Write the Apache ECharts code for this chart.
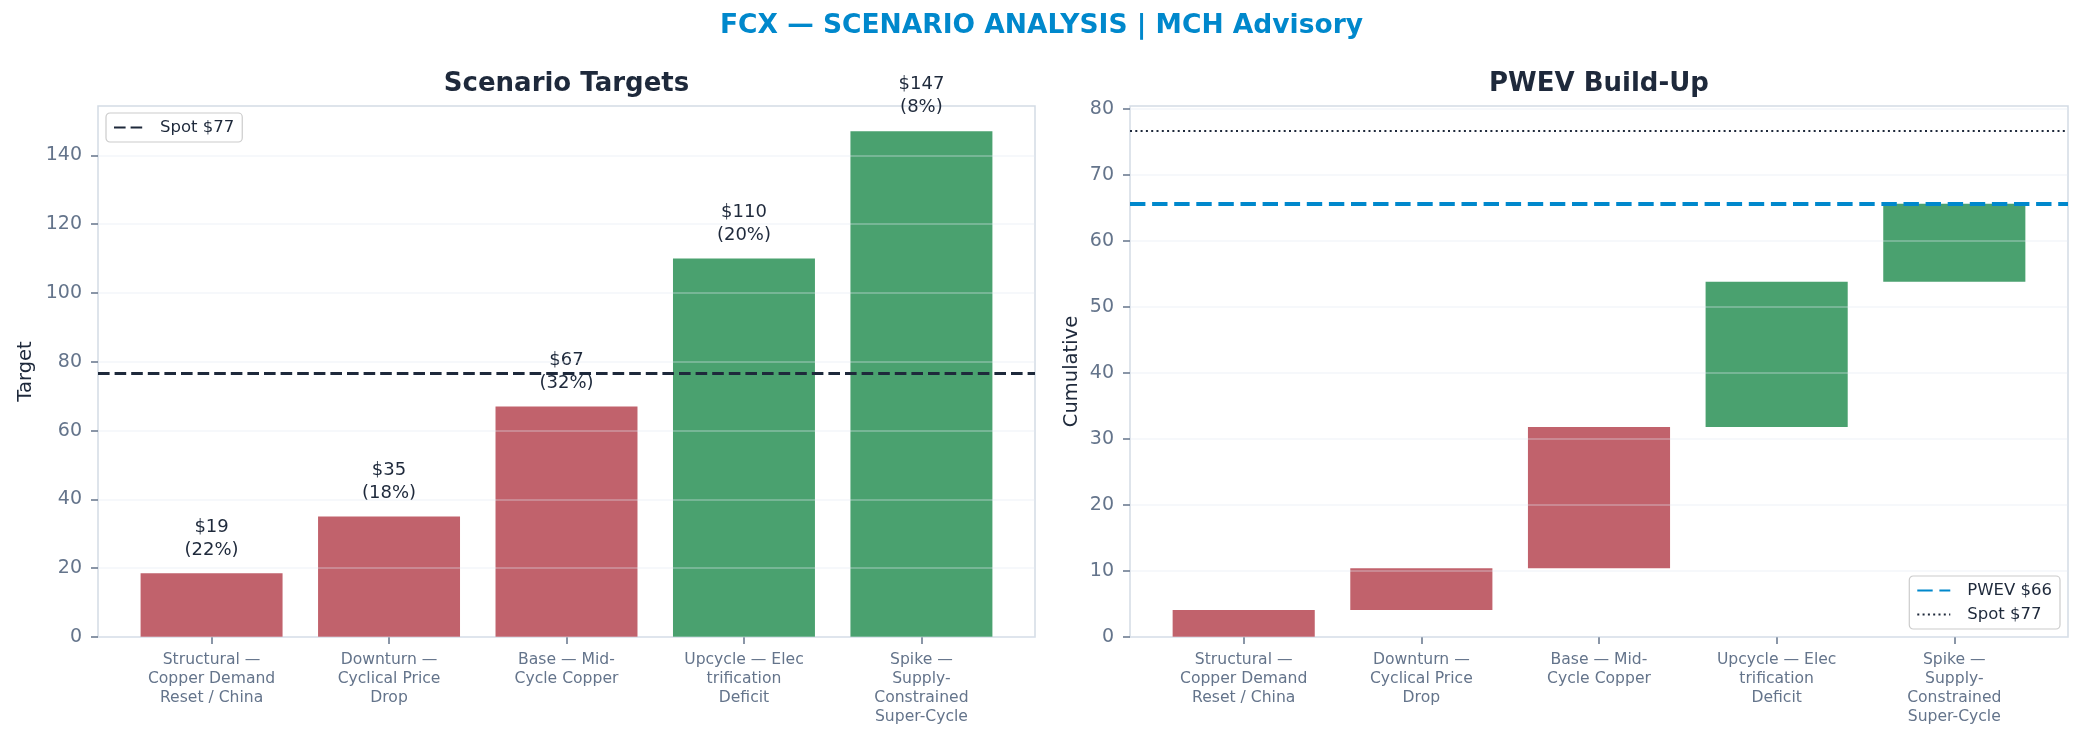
<!DOCTYPE html>
<html>
<head>
<meta charset="utf-8">
<script src="https://cdn.jsdelivr.net/npm/echarts@6/dist/echarts.min.js"></script>
<style>
  html, body { margin: 0; padding: 0; background: #ffffff; }
  #chart { width: 2083px; height: 742px; }
</style>
</head>
<body>
<div id="chart"></div>
<script>
// ---------------- DATA ----------------
const categories = [
  "Structural —\nCopper Demand\nReset / China",
  "Downturn —\nCyclical Price\nDrop",
  "Base — Mid-\nCycle Copper",
  "Upcycle — Elec\ntrification\nDeficit",
  "Spike —\nSupply-\nConstrained\nSuper-Cycle"
];
const targets = [18.5, 35, 67, 110, 147];
const probabilities = [22, 18, 32, 20, 8];
const cumulative = [4.1, 10.4, 31.8, 53.8, 65.6];
const spot = 76.6;
const pwev = 65.6;
const leftTicks = [0, 20, 40, 60, 80, 100, 120, 140];
const rightTicks = [0, 10, 20, 30, 40, 50, 60, 70, 80];
const xLimits = [-0.64, 4.64];
const leftYMax = 154.35;
const rightYMax = 80.4;

// ---------------- STYLE ----------------
const FONT = "DejaVu Sans";
const RED = "#c1626c";
const GREEN = "#4aa16f";
const DARK = "#1e293b";
const TICK = "#64748b";
const SPINE = "#d3dbe5";
const GRIDC = "rgba(226,232,240,0.4)";
const BAR_FRAC = 0.8;
const W = 2083, H = 742;
const g0 = { left: 98, right: 1048, top: 106, bottom: 105 };
const g1 = { left: 1130, right: 15, top: 106, bottom: 105 };
const c0 = g0.left + (W - g0.left - g0.right) / 2;
const c1 = g1.left + (W - g1.left - g1.right) / 2;

const colorFor = v => (v < spot ? RED : GREEN);
const idx = categories.map((_, i) => i);
const spotName = "Spot $" + Math.round(spot);
const pwevName = "PWEV $" + Math.round(pwev);

function xAxisFor(gi) {
  return {
    type: "value", gridIndex: gi, min: xLimits[0], max: xLimits[1],
    axisLine: { show: false, onZero: false },
    splitLine: { show: false },
    axisTick: { show: true, customValues: idx, length: 7, lineStyle: { color: TICK, width: 1.5 } },
    axisLabel: {
      customValues: idx, margin: 13,
      formatter: v => categories[Math.round(v)] || "",
      fontFamily: FONT, fontSize: 15.6, lineHeight: 19, color: TICK
    }
  };
}
function yAxisFor(gi, max, interval, ticks, name, gap) {
  return {
    type: "value", gridIndex: gi, min: 0, max: max, interval: interval, z: 3,
    name: name, nameLocation: "middle", nameGap: gap,
    nameTextStyle: { fontFamily: FONT, fontSize: 19.5, color: DARK },
    axisLine: { show: false, onZero: false },
    axisTick: { show: true, customValues: ticks, length: 7, lineStyle: { color: TICK, width: 1.5 } },
    axisLabel: { customValues: ticks, margin: 16, fontFamily: FONT, fontSize: 19, color: TICK },
    splitLine: { show: true, lineStyle: { color: GRIDC, width: 1.5 } }
  };
}

const legendCommon = {
  backgroundColor: "rgba(255,255,255,0.85)",
  borderColor: "#cccccc", borderWidth: 1.2, borderRadius: 4,
  textStyle: { fontFamily: FONT, fontSize: 16.5, color: DARK, padding: [0, 0, 0, 12] },
  itemStyle: { opacity: 0, borderWidth: 0 },
  formatter: n => n.trim(),
  selectedMode: false
};

const option = {
  animation: false,
  backgroundColor: "#ffffff",
  graphic: [
    { type: "text", x: W / 2, y: 26, style: { text: "FCX — SCENARIO ANALYSIS | MCH Advisory", fill: "#0088cc",
      font: "bold 26.5px '" + FONT + "'", textAlign: "center", textVerticalAlign: "middle" } },
    { type: "text", x: c0, y: 84, style: { text: "Scenario Targets", fill: DARK,
      font: "bold 26px '" + FONT + "'", textAlign: "center", textVerticalAlign: "middle" } },
    { type: "text", x: c1, y: 84, style: { text: "PWEV Build-Up", fill: DARK,
      font: "bold 26px '" + FONT + "'", textAlign: "center", textVerticalAlign: "middle" } }
  ],
  grid: [
    Object.assign({ show: true, borderColor: SPINE, borderWidth: 1.5, backgroundColor: "transparent" }, g0),
    Object.assign({ show: true, borderColor: SPINE, borderWidth: 1.5, backgroundColor: "transparent" }, g1)
  ],
  xAxis: [xAxisFor(0), xAxisFor(1)],
  yAxis: [
    yAxisFor(0, leftYMax, 20, leftTicks, "Target", 62),
    yAxisFor(1, rightYMax, 10, rightTicks, "Cumulative", 48)
  ],
  legend: [
    Object.assign({}, legendCommon, {
      data: [spotName], left: 106, top: 113, orient: "vertical",
      itemWidth: 29, itemHeight: 14, padding: [6, 8, 6, 7]
    }),
    Object.assign({}, legendCommon, {
      data: [pwevName, spotName + " "], right: 23, bottom: 113, orient: "vertical",
      itemWidth: 33, itemHeight: 14, itemGap: 7, padding: [6, 8, 6, 7]
    })
  ],
  series: [
    {
      type: "bar", name: "Target", xAxisIndex: 0, yAxisIndex: 0, barWidth: (BAR_FRAC * 100) + "%", z: 2,
      data: targets.map((v, i) => ({ value: [i, v], itemStyle: { color: colorFor(v) } })),
      label: {
        show: true, position: "top", distance: 12,
        formatter: p => "$" + Math.round(targets[p.dataIndex]) + "\n(" + probabilities[p.dataIndex] + "%)",
        fontFamily: FONT, fontSize: 18, lineHeight: 23, color: DARK
      }
    },
    {
      type: "line", name: spotName, xAxisIndex: 0, yAxisIndex: 0, data: [], symbol: "none",
      lineStyle: { color: DARK, width: 3.1, type: [11.6, 5] },
      markLine: {
        silent: true, symbol: ["none", "none"], label: { show: false },
        lineStyle: { color: DARK, width: 3.1, type: [11.6, 5] },
        data: [{ yAxis: spot }]
      }
    },
    {
      type: "custom", name: "PWEV steps", xAxisIndex: 1, yAxisIndex: 1, z: 2,
      data: cumulative.map((c, i) => [i, i === 0 ? 0 : cumulative[i - 1], c]),
      encode: { x: 0, y: [1, 2] },
      renderItem: (params, api) => {
        const i = api.value(0);
        const lo = api.coord([i, api.value(1)]);
        const hi = api.coord([i, api.value(2)]);
        const w = api.size([BAR_FRAC, 0])[0];
        return {
          type: "rect",
          shape: { x: lo[0] - w / 2, y: hi[1], width: w, height: lo[1] - hi[1] },
          style: { fill: colorFor(targets[i]) }
        };
      }
    },
    {
      type: "line", name: pwevName, xAxisIndex: 1, yAxisIndex: 1, data: [], symbol: "none",
      lineStyle: { color: "#0088cc", width: 4.2, type: [15.4, 6.7] },
      markLine: {
        silent: true, symbol: ["none", "none"], label: { show: false },
        lineStyle: { color: "#0088cc", width: 4.2, type: [15.4, 6.7] },
        data: [{ yAxis: pwev }]
      }
    },
    {
      type: "line", name: spotName + " ", xAxisIndex: 1, yAxisIndex: 1, data: [], symbol: "none",
      lineStyle: { color: DARK, width: 2, type: [2, 3.3] },
      markLine: {
        silent: true, symbol: ["none", "none"], label: { show: false },
        lineStyle: { color: DARK, width: 2, type: [2, 3.3] },
        data: [{ yAxis: spot }]
      }
    }
  ]
};

const chart = echarts.init(document.getElementById("chart"), null, { renderer: "canvas", width: W, height: H });
chart.setOption(option);
</script>
</body>
</html>
